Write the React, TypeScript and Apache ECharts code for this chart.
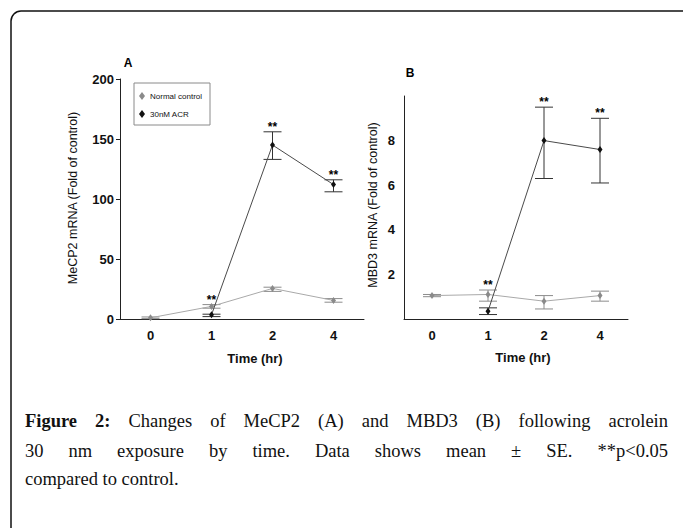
import React, { useEffect, useRef } from 'react';
import * as echarts from 'echarts';

// ---- Data ----
const timeLabels = ['0', '1', '2', '4'];

// Panel A: MeCP2 mRNA (fold of control)
const mecp2Control = [1, 10.5, 25.5, 15.5];
const mecp2ControlLow = [0.3, 9, 23, 14];
const mecp2ControlHigh = [1.7, 12, 26.5, 17];
const mecp2Acr = [null, 3.5, 145, 112];
const mecp2AcrLow = [null, 2, 133, 106];
const mecp2AcrHigh = [null, 4, 156, 116];
const mecp2Sig = [false, true, true, true];

// Panel B: MBD3 mRNA (fold of control)
const mbd3Control = [1.05, 1.1, 0.8, 1.05];
const mbd3ControlLow = [1.0, 0.8, 0.45, 0.8];
const mbd3ControlHigh = [1.1, 1.3, 1.05, 1.25];
const mbd3Acr = [null, 0.35, 8.0, 7.6];
const mbd3AcrLow = [null, 0.2, 6.3, 6.1];
const mbd3AcrHigh = [null, 0.5, 9.5, 9.0];
const mbd3Sig = [false, true, true, true];

const mecp2Ticks = [0, 50, 100, 150, 200];
const mbd3Ticks = [2, 4, 6, 8];

const seriesNames = ['Normal control', '30nM ACR'];

const captionLines = [
  [{ t: 'Figure', b: true }, { t: '2:', b: true }, ...'Changes of MeCP2 (A) and MBD3 (B) following acrolein'.split(' ').map((t) => ({ t, b: false }))],
  '30 nm exposure by time. Data shows mean ± SE. **p<0.05'.split(' ').map((t) => ({ t, b: false })),
  'compared to control.'.split(' ').map((t) => ({ t, b: false })),
];

const SANS = '"Liberation Sans", Arial, Helvetica, sans-serif';
const SERIF = '"Liberation Serif", "Times New Roman", serif';
const GRAY_LINE = '#a9a9a9';
const GRAY_MARK = '#8a8a8a';
const DARK_LINE = '#4a4a4a';
const DARK_MARK = '#111111';

function errorSeries(xi: number, low: (number | null)[], high: (number | null)[], color: string, z: number) {
  const data: number[][] = [];
  low.forEach((l, i) => {
    if (l != null && high[i] != null) data.push([i, l as number, high[i] as number]);
  });
  return {
    type: 'custom',
    xAxisIndex: xi,
    yAxisIndex: xi,
    silent: true,
    z,
    data,
    encode: { x: 0, y: [1, 2] },
    renderItem: (_params: any, api: any) => {
      const x = api.value(0);
      const lo = api.coord([x, api.value(1)]);
      const hi = api.coord([x, api.value(2)]);
      const hw = 9;
      const st = { stroke: color, lineWidth: 1 };
      return {
        type: 'group',
        children: [
          { type: 'line', shape: { x1: lo[0], y1: lo[1], x2: hi[0], y2: hi[1] }, style: st },
          { type: 'line', shape: { x1: lo[0] - hw, y1: lo[1], x2: lo[0] + hw, y2: lo[1] }, style: st },
          { type: 'line', shape: { x1: hi[0] - hw, y1: hi[1], x2: hi[0] + hw, y2: hi[1] }, style: st },
        ],
      };
    },
  };
}

function starSeries(xi: number, sig: boolean[], h1: (number | null)[], h2: (number | null)[]) {
  const data: number[][] = [];
  sig.forEach((s, i) => {
    if (s) data.push([i, Math.max((h1[i] ?? -Infinity) as number, (h2[i] ?? -Infinity) as number)]);
  });
  return {
    type: 'custom',
    xAxisIndex: xi,
    yAxisIndex: xi,
    silent: true,
    z: 5,
    data,
    encode: { x: 0, y: 1 },
    renderItem: (_params: any, api: any) => {
      const p = api.coord([api.value(0), api.value(1)]);
      return {
        type: 'text',
        x: p[0],
        y: p[1] + 1,
        style: {
          text: '**',
          align: 'center',
          verticalAlign: 'bottom',
          fontFamily: SANS,
          fontWeight: 'bold',
          fontSize: 12,
          fill: '#000',
        },
      };
    },
  };
}

function lineSeries(xi: number, name: string, data: (number | null)[], lineColor: string, markColor: string, z: number) {
  return {
    type: 'line',
    name,
    xAxisIndex: xi,
    yAxisIndex: xi,
    data,
    z,
    symbol: 'diamond',
    symbolSize: [5, 7],
    showSymbol: true,
    lineStyle: { color: lineColor, width: 1 },
    itemStyle: { color: markColor },
    emphasis: { disabled: true },
  };
}

function buildCaption(): any[] {
  const size = 18.5;
  const canvas = document.createElement('canvas');
  const ctx = canvas.getContext('2d') as CanvasRenderingContext2D;
  const measure = (t: string, b: boolean) => {
    ctx.font = `${b ? 'bold ' : ''}${size}px ${SERIF}`;
    return ctx.measureText(t).width;
  };
  const x0 = 25;
  const x1 = 668;
  const ys = [421, 451, 479];
  const els: any[] = [];
  captionLines.forEach((words, li) => {
    const widths = words.map((w) => measure(w.t, w.b));
    const total = widths.reduce((a, b) => a + b, 0);
    const justify = li < captionLines.length - 1;
    const spaceW = measure(' ', false);
    const gap = justify ? (x1 - x0 - total) / (words.length - 1) : spaceW;
    let x = x0;
    words.forEach((w, i) => {
      els.push({
        type: 'text',
        x,
        y: ys[li],
        style: {
          text: w.t,
          fontFamily: SERIF,
          fontSize: size,
          fontWeight: w.b ? 'bold' : 'normal',
          fill: '#111',
          verticalAlign: 'middle',
          align: 'left',
        },
      });
      x += widths[i] + gap;
    });
  });
  return els;
}

export default function App() {
  const ref = useRef<HTMLDivElement>(null);
  useEffect(() => {
    if (!ref.current) return;
    const chart = echarts.init(ref.current, undefined, { renderer: 'svg' });
    const axisLineStyle = { color: '#222', width: 1 };
    const tickLabel = { fontFamily: SANS, fontWeight: 'bold', fontSize: 13, color: '#111' };
    const option: any = {
      animation: false,
      backgroundColor: '#ffffff',
      grid: [
        { left: 120, top: 79, width: 244, height: 240 },
        { left: 404, top: 96, width: 224, height: 223 },
      ],
      legend: {
        data: seriesNames,
        orient: 'vertical',
        left: 134,
        top: 83,
        icon: 'diamond',
        itemWidth: 6,
        itemHeight: 8,
        itemGap: 10,
        padding: [9, 8, 7, 5],
        borderColor: '#8a8a8a',
        borderWidth: 1,
        selectedMode: false,
        textStyle: { fontFamily: SANS, fontSize: 8, color: '#111', padding: [0, 0, 0, 0] },
      },
      xAxis: [0, 1].map((i) => ({
        type: 'category',
        gridIndex: i,
        data: timeLabels,
        boundaryGap: true,
        axisLine: { lineStyle: axisLineStyle },
        axisTick: { alignWithLabel: true, length: 4, lineStyle: axisLineStyle },
        axisLabel: { ...tickLabel, margin: 10 },
        splitLine: { show: false },
      })),
      yAxis: [
        {
          type: 'value',
          gridIndex: 0,
          min: 0,
          max: 200,
          interval: 50,
          axisLine: { show: true, lineStyle: axisLineStyle },
          axisTick: { show: true, length: 4, lineStyle: axisLineStyle, customValues: mecp2Ticks },
          axisLabel: { ...tickLabel, margin: 6, customValues: mecp2Ticks },
          splitLine: { show: false },
        },
        {
          type: 'value',
          gridIndex: 1,
          min: 0,
          max: 10,
          interval: 2,
          axisLine: { show: true, lineStyle: axisLineStyle },
          axisTick: { show: false },
          axisLabel: { ...tickLabel, margin: 9, customValues: mbd3Ticks },
          splitLine: { show: false },
        },
      ],
      series: [
        errorSeries(0, mecp2ControlLow, mecp2ControlHigh, '#8c8c8c', 2),
        errorSeries(0, mecp2AcrLow, mecp2AcrHigh, '#333333', 3),
        lineSeries(0, seriesNames[0], mecp2Control, GRAY_LINE, GRAY_MARK, 2),
        lineSeries(0, seriesNames[1], mecp2Acr, DARK_LINE, DARK_MARK, 3),
        starSeries(0, mecp2Sig, mecp2ControlHigh, mecp2AcrHigh),
        errorSeries(1, mbd3ControlLow, mbd3ControlHigh, '#8c8c8c', 2),
        errorSeries(1, mbd3AcrLow, mbd3AcrHigh, '#333333', 3),
        lineSeries(1, seriesNames[0], mbd3Control, GRAY_LINE, GRAY_MARK, 2),
        lineSeries(1, seriesNames[1], mbd3Acr, DARK_LINE, DARK_MARK, 3),
        starSeries(1, mbd3Sig, mbd3ControlHigh, mbd3AcrHigh),
      ],
      graphic: [
        {
          type: 'rect',
          shape: { x: 11, y: 11, width: 690, height: 560, r: 10 },
          style: { fill: 'none', stroke: '#111', lineWidth: 1.5 },
          silent: true,
          z: 0,
        },
        {
          type: 'text', x: 128, y: 63,
          style: { text: 'A', fontFamily: SANS, fontWeight: 'bold', fontSize: 12, fill: '#000', align: 'center', verticalAlign: 'middle' },
        },
        {
          type: 'text', x: 410, y: 73,
          style: { text: 'B', fontFamily: SANS, fontWeight: 'bold', fontSize: 12, fill: '#000', align: 'center', verticalAlign: 'middle' },
        },
        {
          type: 'text', x: 73, y: 198, rotation: Math.PI / 2,
          style: { text: 'MeCP2 mRNA (Fold of control)', fontFamily: SANS, fontSize: 12.5, fill: '#111', align: 'center', verticalAlign: 'middle' },
        },
        {
          type: 'text', x: 373, y: 205, rotation: Math.PI / 2,
          style: { text: 'MBD3 mRNA (Fold of control)', fontFamily: SANS, fontSize: 12.5, fill: '#111', align: 'center', verticalAlign: 'middle' },
        },
        {
          type: 'text', x: 255, y: 358,
          style: { text: 'Time (hr)', fontFamily: SANS, fontWeight: 'bold', fontSize: 13, fill: '#111', align: 'center', verticalAlign: 'middle' },
        },
        {
          type: 'text', x: 523, y: 357,
          style: { text: 'Time (hr)', fontFamily: SANS, fontWeight: 'bold', fontSize: 13, fill: '#111', align: 'center', verticalAlign: 'middle' },
        },
        ...buildCaption(),
      ],
    };
    chart.setOption(option);
    return () => chart.dispose();
  }, []);
  return <div ref={ref} style={{ position: 'fixed', left: 0, top: 0, width: 683, height: 528 }} />;
}
